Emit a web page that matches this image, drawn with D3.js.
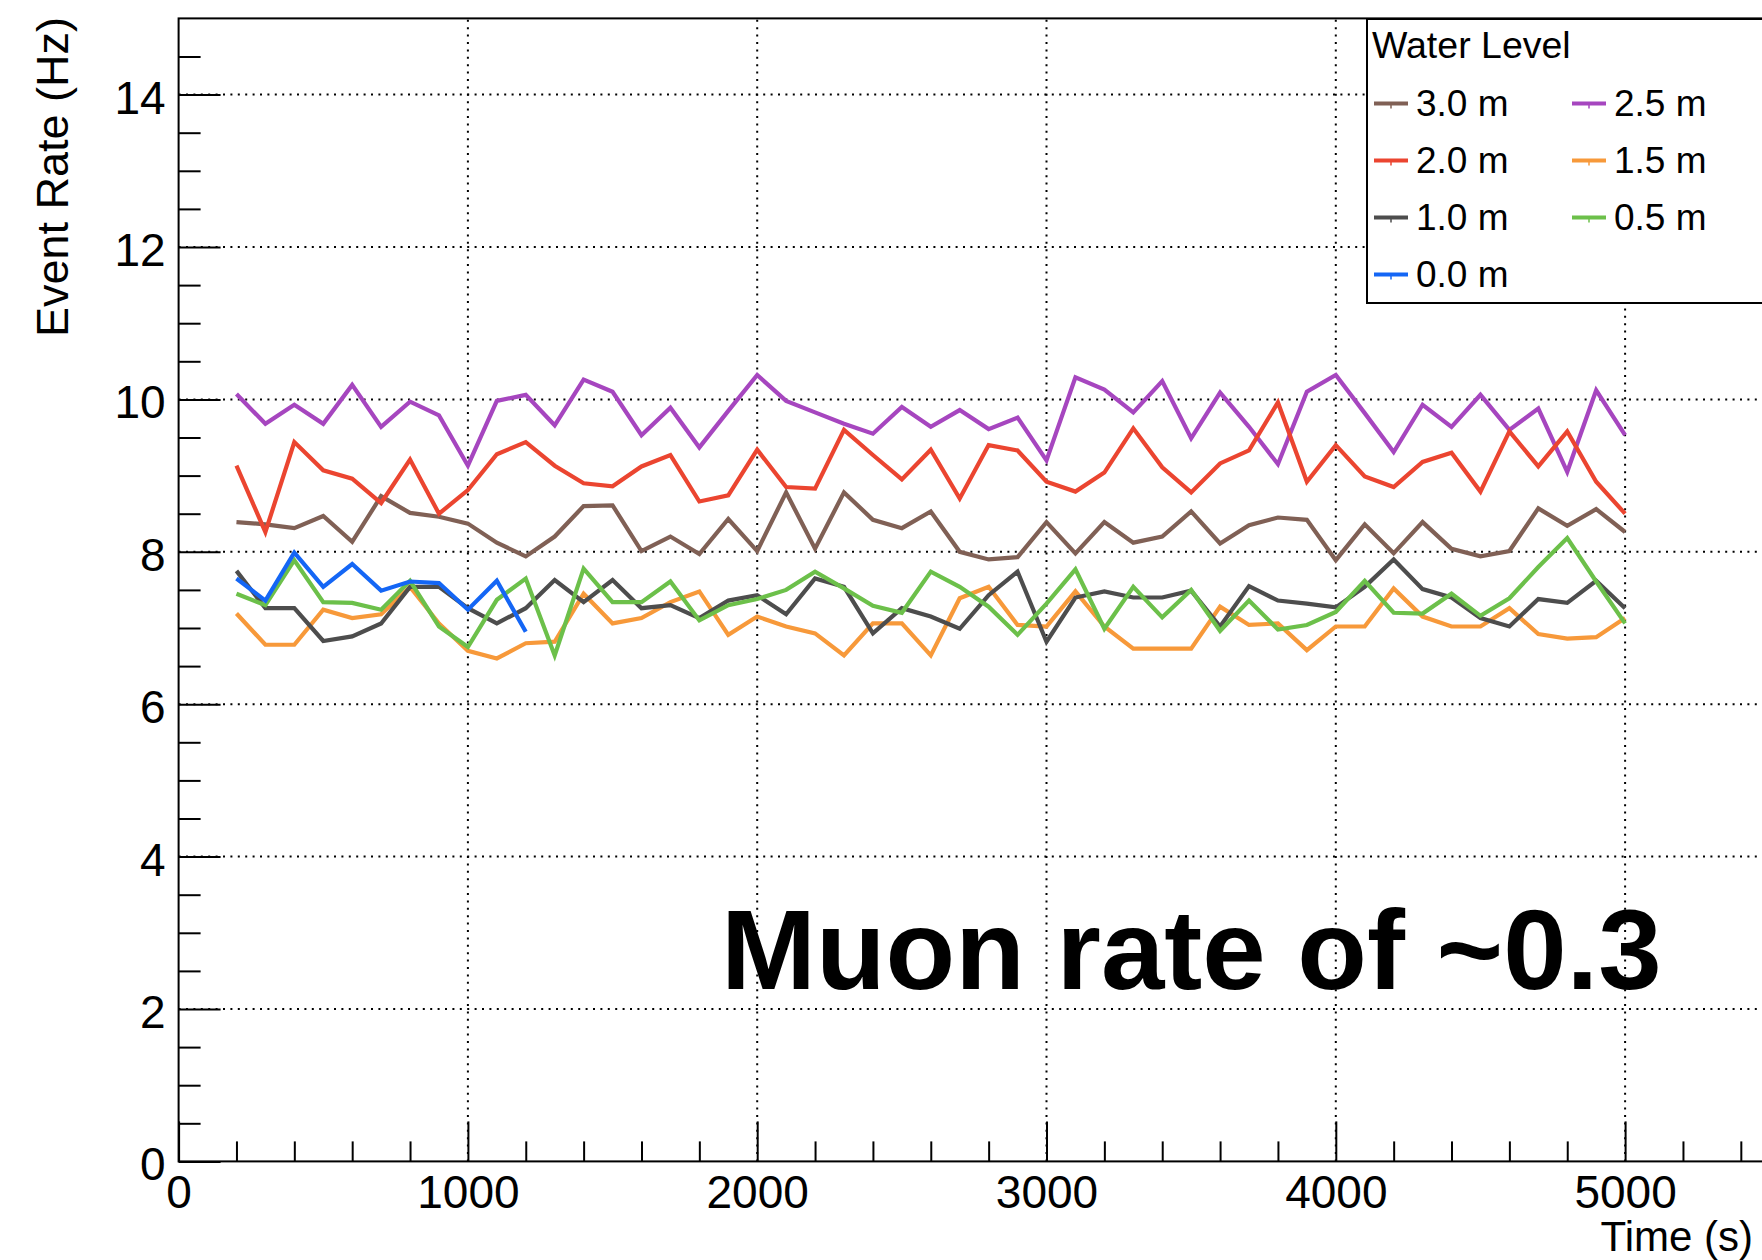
<!DOCTYPE html>
<html>
<head>
<meta charset="utf-8">
<script src="https://cdn.jsdelivr.net/npm/d3@7"></script>
<style>
  body { margin: 0; background: #fff; }
  svg { display: block; font-family: "Liberation Sans", Arial, Helvetica, sans-serif; }
</style>
</head>
<body>
<div id="chart"></div>
<script>
// measurement times (s)
const times = [200, 300, 400, 500, 600, 700, 800, 900, 1000, 1100, 1200, 1300, 1400,
  1500, 1600, 1700, 1800, 1900, 2000, 2100, 2200, 2300, 2400, 2500, 2600,
  2700, 2800, 2900, 3000, 3100, 3200, 3300, 3400, 3500, 3600, 3700, 3800,
  3900, 4000, 4100, 4200, 4300, 4400, 4500, 4600, 4700, 4800, 4900, 5000];

// event rate (Hz) per water level
const level30 = [8.39, 8.36, 8.31, 8.47, 8.13, 8.73, 8.51, 8.46, 8.37, 8.12, 7.94, 8.20, 8.60,
  8.61, 8.01, 8.20, 7.97, 8.43, 8.01, 8.78, 8.04, 8.78, 8.42, 8.31, 8.53,
  8.00, 7.90, 7.93, 8.39, 7.98, 8.39, 8.12, 8.20, 8.53, 8.11, 8.35, 8.45,
  8.42, 7.89, 8.36, 7.98, 8.39, 8.04, 7.94, 8.01, 8.57, 8.34, 8.56, 8.26];
const level25 = [10.07, 9.68, 9.93, 9.68, 10.19, 9.64, 9.97, 9.79, 9.13, 9.98, 10.06, 9.66, 10.26,
  10.10, 9.53, 9.89, 9.37, 9.85, 10.32, 9.98, 9.83, 9.68, 9.55, 9.90, 9.64,
  9.86, 9.61, 9.76, 9.20, 10.29, 10.13, 9.83, 10.24, 9.49, 10.09, 9.64, 9.15,
  10.10, 10.32, 9.82, 9.31, 9.93, 9.64, 10.06, 9.60, 9.88, 9.05, 10.12, 9.53];
const level20 = [9.13, 8.26, 9.44, 9.07, 8.96, 8.64, 9.21, 8.50, 8.81, 9.28, 9.44, 9.13, 8.90,
  8.86, 9.12, 9.27, 8.66, 8.74, 9.34, 8.85, 8.83, 9.60, 9.27, 8.95, 9.34,
  8.70, 9.40, 9.33, 8.92, 8.79, 9.04, 9.62, 9.11, 8.78, 9.16, 9.33, 9.96,
  8.92, 9.40, 8.99, 8.85, 9.18, 9.30, 8.79, 9.58, 9.12, 9.58, 8.92, 8.50];
const level15 = [7.19, 6.78, 6.78, 7.24, 7.13, 7.18, 7.54, 7.06, 6.70, 6.60, 6.80, 6.82, 7.45,
  7.06, 7.13, 7.34, 7.48, 6.91, 7.15, 7.02, 6.93, 6.64, 7.06, 7.06, 6.64,
  7.39, 7.54, 7.04, 7.02, 7.48, 7.02, 6.73, 6.73, 6.73, 7.28, 7.04, 7.06,
  6.71, 7.02, 7.02, 7.52, 7.15, 7.02, 7.02, 7.26, 6.92, 6.86, 6.88, 7.13];
const level10 = [7.75, 7.26, 7.26, 6.83, 6.89, 7.06, 7.54, 7.54, 7.26, 7.06, 7.26, 7.63, 7.34,
  7.63, 7.26, 7.30, 7.13, 7.36, 7.43, 7.18, 7.65, 7.54, 6.93, 7.26, 7.15,
  6.99, 7.43, 7.74, 6.82, 7.40, 7.48, 7.40, 7.40, 7.49, 7.02, 7.55, 7.36,
  7.32, 7.27, 7.54, 7.90, 7.51, 7.40, 7.13, 7.02, 7.38, 7.33, 7.62, 7.26];
const level05 = [7.45, 7.30, 7.89, 7.34, 7.33, 7.24, 7.62, 7.02, 6.75, 7.37, 7.65, 6.64, 7.78,
  7.34, 7.34, 7.61, 7.10, 7.30, 7.38, 7.50, 7.74, 7.52, 7.29, 7.20, 7.74,
  7.54, 7.28, 6.91, 7.32, 7.77, 6.99, 7.54, 7.14, 7.50, 6.96, 7.36, 6.98,
  7.04, 7.21, 7.62, 7.20, 7.19, 7.45, 7.16, 7.39, 7.80, 8.18, 7.61, 7.06];
const level00 = [7.65, 7.36, 7.99, 7.54, 7.84, 7.49, 7.61, 7.59, 7.24, 7.62, 6.95];

const levelNames = ["3.0 m", "2.5 m", "2.0 m", "1.5 m", "1.0 m", "0.5 m", "0.0 m"];
const levelColors = ["#806055", "#a646bf", "#eb4530", "#f7993a", "#4d4d4d", "#6cc04a", "#1466f5"];

const xMajorTicks = [0, 1000, 2000, 3000, 4000, 5000];
const xMinorTicks = [200, 400, 600, 800, 1200, 1400, 1600, 1800, 2200, 2400, 2600, 2800,
  3200, 3400, 3600, 3800, 4200, 4400, 4600, 4800, 5200, 5400];
const yMajorTicks = [0, 2, 4, 6, 8, 10, 12, 14];
const yMinorTicks = [0.5, 1, 1.5, 2.5, 3, 3.5, 4.5, 5, 5.5, 6.5, 7, 7.5, 8.5, 9, 9.5,
  10.5, 11, 11.5, 12.5, 13, 13.5, 14.5];

const series = [level30, level25, level20, level15, level10, level05, level00]
  .map((values, i) => ({name: levelNames[i], color: levelColors[i], values: values}));

// canvas
const width = 1762, height = 1260;
const plotLeft = 178.6, plotTop = 18.4, plotBottom = 1161.4;
const font = 46;

const svg = d3.select("#chart").append("svg")
  .attr("width", width)
  .attr("height", height);

svg.append("rect").attr("width", width).attr("height", height).attr("fill", "#fff");

const x = d3.scaleLinear().domain([0, 5500]).range([plotLeft, plotLeft + 5500 * 0.2893]);
const y = d3.scaleLinear().domain([0, 15]).range([plotBottom, plotTop]);

// grid
const grid = svg.append("g").attr("stroke", "#000").attr("stroke-width", 2)
  .attr("stroke-dasharray", "2 5.4");
grid.selectAll(".vgrid")
  .data(xMajorTicks.filter(d => d > 0))
  .enter().append("line")
  .attr("x1", d => x(d)).attr("x2", d => x(d))
  .attr("y1", y(0)).attr("y2", y(15));
grid.selectAll(".hgrid")
  .data(yMajorTicks.filter(d => d > 0))
  .enter().append("line")
  .attr("x1", x(0)).attr("x2", x(5500))
  .attr("y1", d => y(d)).attr("y2", d => y(d));

// axes: ticks are drawn inward, ROOT style
function styleAxis(g) {
  g.select(".domain").remove();
  g.selectAll(".tick line").attr("stroke", "#000").attr("stroke-width", 2);
  g.selectAll(".tick text").attr("fill", "#000")
    .style("font-size", font + "px")
    .style("font-family", "'Liberation Sans', Arial, Helvetica, sans-serif");
}

svg.append("g")
  .attr("transform", `translate(0,${y(0)})`)
  .call(d3.axisBottom(x).tickValues(xMinorTicks).tickSize(-20).tickFormat(""))
  .call(styleAxis);
svg.append("g")
  .attr("transform", `translate(0,${y(0)})`)
  .call(d3.axisBottom(x).tickValues(xMajorTicks).tickSize(-40).tickPadding(14).tickFormat(d3.format("d")))
  .call(styleAxis);

svg.append("g")
  .attr("transform", `translate(${x(0)},0)`)
  .call(d3.axisLeft(y).tickValues(yMinorTicks).tickSize(-22).tickFormat(""))
  .call(styleAxis);
svg.append("g")
  .attr("transform", `translate(${x(0)},0)`)
  .call(d3.axisLeft(y).tickValues(yMajorTicks).tickSize(-42).tickPadding(13).tickFormat(d3.format("d")))
  .call(styleAxis)
  .selectAll(".tick text").attr("dy", "0.4em");

// frame
svg.append("rect")
  .attr("x", x(0)).attr("y", y(15))
  .attr("width", x(5500) - x(0)).attr("height", y(0) - y(15))
  .attr("fill", "none").attr("stroke", "#000").attr("stroke-width", 2);

// data lines
const line = d3.line()
  .x((d, i) => x(times[i]))
  .y(d => y(d));

svg.append("g").attr("id", "plot")
  .selectAll("path")
  .data(series)
  .enter().append("path")
  .attr("d", d => line(d.values))
  .attr("fill", "none")
  .attr("stroke", d => d.color)
  .attr("stroke-width", 4.2)
  .attr("stroke-linejoin", "miter");

// axis titles
svg.append("text")
  .attr("x", 1753).attr("y", 1251)
  .attr("text-anchor", "end")
  .style("font-size", "42px")
  .text("Time (s)");

svg.append("text")
  .attr("transform", "translate(68,17) rotate(-90)")
  .attr("text-anchor", "end")
  .style("font-size", "45px")
  .text("Event Rate (Hz)");

// legend
const legend = svg.append("g");
legend.append("rect")
  .attr("x", 1367).attr("y", 19)
  .attr("width", 460).attr("height", 284)
  .attr("fill", "#fff").attr("stroke", "#000").attr("stroke-width", 2);
legend.append("text")
  .attr("x", 1372).attr("y", 58)
  .style("font-size", "37.5px")
  .text("Water Level");

const entry = legend.selectAll(".entry")
  .data(series)
  .enter().append("g")
  .attr("class", "entry")
  .attr("transform", (d, i) => `translate(${i % 2 ? 1572 : 1374},${103.5 + Math.floor(i / 2) * 57})`);
entry.append("line")
  .attr("x1", 0).attr("x2", 34)
  .attr("stroke", d => d.color).attr("stroke-width", 4.2);
entry.append("line")
  .attr("x1", 17).attr("x2", 17).attr("y1", 0).attr("y2", 5)
  .attr("stroke", d => d.color).attr("stroke-width", 1.5);
entry.append("text")
  .attr("x", 42).attr("y", 12.5)
  .style("font-size", "37px")
  .text(d => d.name);

// annotation
svg.append("text")
  .attr("x", 721).attr("y", 989)
  .style("font-size", "114px")
  .style("font-weight", "bold")
  .text("Muon rate of ~0.3");
</script>
</body>
</html>
